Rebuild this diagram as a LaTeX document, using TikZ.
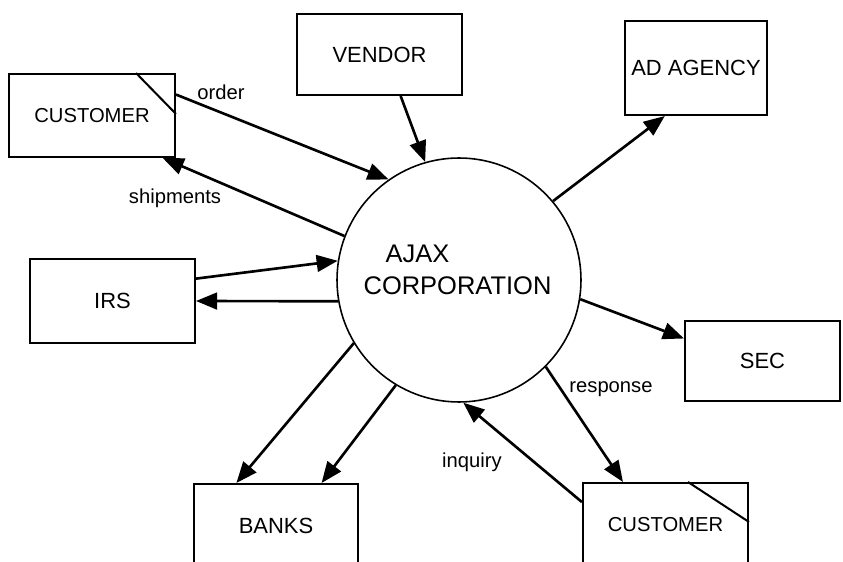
\documentclass[tikz,border=0pt]{standalone}
\usepackage{fontspec}
\setmainfont{Liberation Sans}
\usetikzlibrary{arrows.meta}
\tikzset{
  dfd-entity/.style={draw=black, fill=white, line width=1.15pt, inner sep=0pt,
    minimum width=3.3cm, minimum height=1.64cm, font=\fontsize{12.5}{15}\selectfont},
  dfd-process/.style={circle, draw=black, line width=0.9pt, inner sep=0pt, minimum size=4.88cm},
  dfd-flow/.style={-{Triangle[length=12pt, width=9.5pt]}, line width=1.5pt},
  dfd-label/.style={font=\fontsize{11.5}{13}\selectfont}
}

\begin{document}
\begin{tikzpicture}[x=0.02cm, y=0.02cm]
  \useasboundingbox (0,0) rectangle (843,562);

  % Central process
  \node[dfd-process] (ajax) at (459,282) {};
  \node[align=left, inner sep=0pt, font=\fontsize{14.5}{18.2}\selectfont] (ajaxtext) at (457.5,292) {\hspace{12.5pt}AJAX\\CORPORATION};

  % External entities
  \node[dfd-entity, minimum width=3.32cm, minimum height=1.66cm, font=\fontsize{11.5}{13}\selectfont] (cust1) at (92,446.5) {CUSTOMER};
  \node[dfd-entity, minimum height=1.62cm] (vendor) at (379.5,507.5) {VENDOR};
  \node[dfd-entity, minimum width=2.86cm, minimum height=1.88cm] (adagency) at (696,494) {AD AGENCY};
  \node[dfd-entity, minimum height=1.68cm] (irs) at (112.5,261) {IRS};
  \node[dfd-entity, minimum width=3.1cm, minimum height=1.6cm] (sec) at (762.5,201) {SEC};
  \node[dfd-entity, minimum width=3.28cm, minimum height=1.66cm] (banks) at (276,36.5) {BANKS};
  \node[dfd-entity, minimum height=1.66cm, font=\fontsize{11.5}{13}\selectfont] (cust2) at (665.5,37.5) {CUSTOMER};

  % Duplicate-entity corner marks
  \draw[line width=1.15pt] ([xshift=-0.8cm]cust1.north east) -- ([yshift=-0.82cm]cust1.north east);
  \draw[line width=1.15pt] ([xshift=-1.22cm]cust2.north east) -- ([yshift=-0.8cm]cust2.north east);

  % Data flows
  \draw[dfd-flow] (cust1.14) -- (ajax.125);
  \draw[dfd-flow] (ajax.159) -- (cust1.-31);
  \draw[dfd-flow] (vendor.-63) -- (ajax.106);
  \draw[dfd-flow] (ajax.40) -- (adagency.-123);
  \draw[dfd-flow] (irs.15) -- (ajax.171);
  \draw[dfd-flow] (ajax.190) -- (irs.east);
  \draw[dfd-flow] (ajax.-9) -- (sec.164);
  \draw[dfd-flow] (ajax.211) -- (banks.133);
  \draw[dfd-flow] (ajax.239) -- (banks.43);
  \draw[dfd-flow] (ajax.-45) -- (cust2.135);
  \draw[dfd-flow] (cust2.165) -- (ajax.-88);

  % Flow labels
  \node[dfd-label] (order) at (221,470) {order};
  \node[dfd-label] (shipments) at (175,364) {shipments};
  \node[dfd-label] (response) at (611,173) {response};
  \node[dfd-label] (inquiry) at (472,100) {inquiry};
\end{tikzpicture}
\end{document}
